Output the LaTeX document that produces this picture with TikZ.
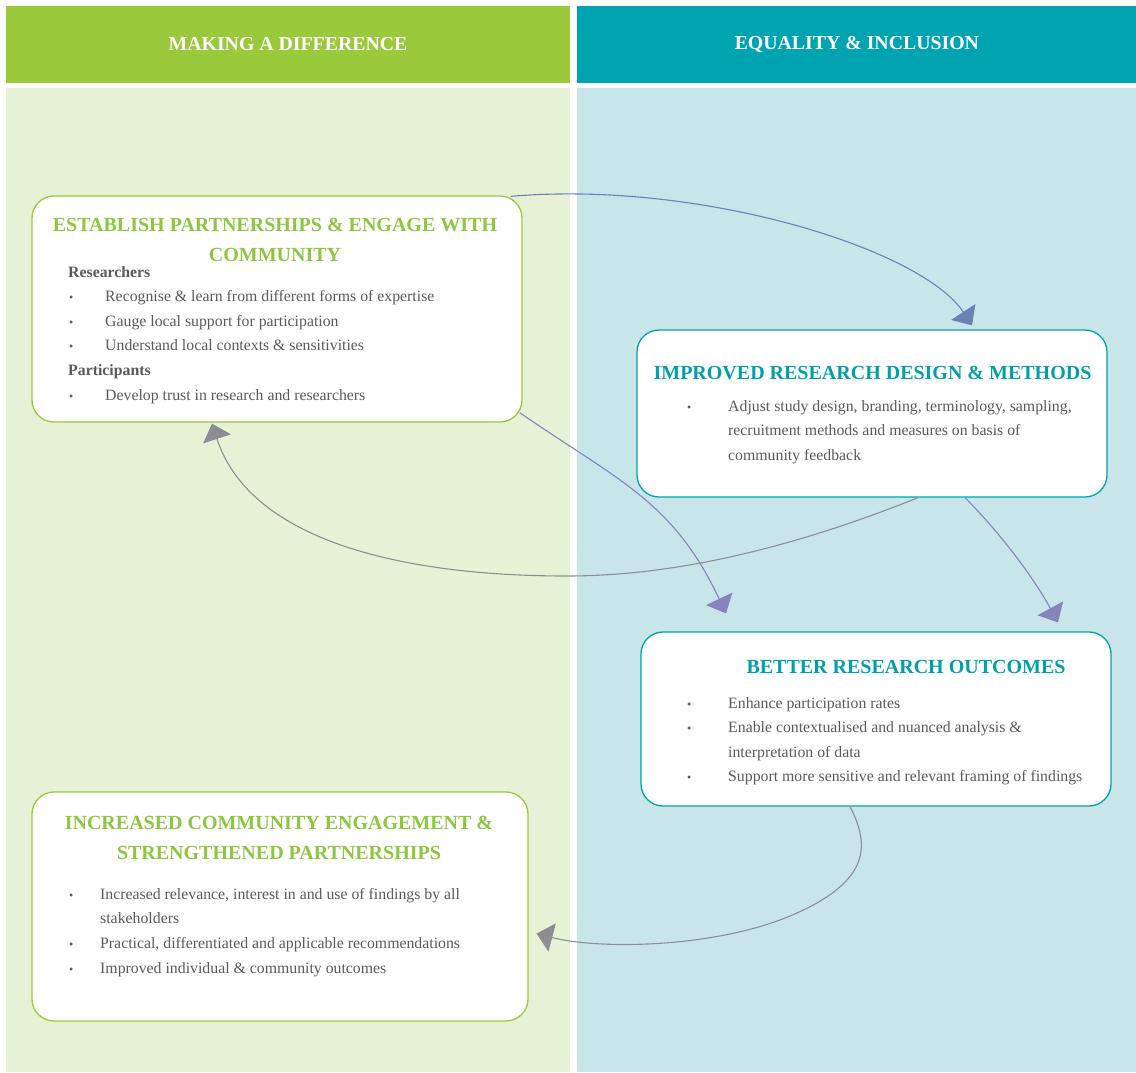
\documentclass[tikz,border=0pt]{standalone}
\usepackage{fontspec}
\setmainfont{Liberation Serif}
\usetikzlibrary{positioning,arrows.meta}

\definecolor{mdgreen}{HTML}{9ACA3C}
\definecolor{eqteal}{HTML}{00A4B0}
\definecolor{palegreen}{HTML}{E6F1D6}
\definecolor{paleblue}{HTML}{C8E5EA}
\definecolor{titlegreen}{HTML}{8DC63F}
\definecolor{titleteal}{HTML}{00A0AB}
\definecolor{bodygray}{HTML}{5A5A5A}
\definecolor{arrblue}{HTML}{6C82B3}
\definecolor{arrpurple}{HTML}{8783BF}
\definecolor{arrgray}{HTML}{8E8E92}

\newcommand{\bul}[1]{\makebox[#1][l]{\hspace{1pt}{\fontsize{12}{12}\selectfont\textbullet}}}

\tikzset{
  header/.style={minimum height=77pt, inner sep=0pt, text=white,
    font=\fontsize{19.8}{22}\selectfont\bfseries},
  panel/.style={minimum height=984pt, inner sep=0pt},
  card/.style={draw, fill=white, rounded corners=22pt, line width=1.3pt, inner sep=0pt},
  cardtitle/.style={align=center, inner sep=0pt, font=\fontsize{20}{30}\selectfont\bfseries},
  cardbody/.style={align=left, inner sep=0pt, anchor=north west, text=bodygray,
    font=\fontsize{15.8}{24.6}\selectfont},
  flow/.style={line width=1.1pt, -{Triangle[length=16pt,width=29pt]}},
}

\begin{document}
\begin{tikzpicture}[x=1pt,y=-1pt]
\useasboundingbox (0,0) rectangle (1136,1072);

%% the two columns
\node[header, fill=mdgreen, minimum width=564pt] (mad) at (288,44.5) {MAKING A DIFFERENCE};
\node[header, fill=eqteal, minimum width=559pt, right=7pt of mad] (eqi) {EQUALITY \& INCLUSION};
\node[panel, fill=palegreen, minimum width=564pt, below=5pt of mad] (madP) {};
\node[panel, fill=paleblue, minimum width=559pt, below=5pt of eqi] (eqiP) {};

%% establish partnerships
\node[card, draw=mdgreen, minimum width=490pt, minimum height=226pt] (est) at (277,309) {};
\node[cardtitle, text=titlegreen] (estT) at (275,240) {ESTABLISH PARTNERSHIPS \& ENGAGE WITH\\COMMUNITY};
\node[cardbody] (estB) at (68,266) {\textbf{Researchers}\\
  \bul{37pt}Recognise \& learn from different forms of expertise\\
  \bul{37pt}Gauge local support for participation\\
  \bul{37pt}Understand local contexts \& sensitivities\\
  \textbf{Participants}\\
  \bul{37pt}Develop trust in research and researchers};

%% improved design
\node[card, draw=eqteal, minimum width=470pt, minimum height=167pt] (imp) at (872,413.5) {};
\node[cardtitle, text=titleteal] (impT) at (872.5,373) {IMPROVED RESEARCH DESIGN \& METHODS};
\node[cardbody] (impB) at (686,400) {\bul{42pt}Adjust study design, branding, terminology, sampling,\\
  \hspace*{42pt}recruitment methods and measures on basis of\\
  \hspace*{42pt}community feedback};

%% better outcomes
\node[card, draw=eqteal, minimum width=470pt, minimum height=174pt] (bro) at (876,719) {};
\node[cardtitle, text=titleteal] (broT) at (906,667) {BETTER RESEARCH OUTCOMES};
\node[cardbody] (broB) at (686,697) {\bul{42pt}Enhance participation rates\\
  \bul{42pt}Enable contextualised and nuanced analysis \&\\
  \hspace*{42pt}interpretation of data\\
  \bul{42pt}Support more sensitive and relevant framing of findings};

%% increased engagement
\node[card, draw=mdgreen, minimum width=496pt, minimum height=229pt] (inc) at (280,906.5) {};
\node[cardtitle, text=titlegreen] (incT) at (279,838) {INCREASED COMMUNITY ENGAGEMENT \&\\STRENGTHENED PARTNERSHIPS};
\node[cardbody] (incB) at (68,888) {\bul{32pt}Increased relevance, interest in and use of findings by all\\
  \hspace*{32pt}stakeholders\\
  \bul{32pt}Practical, differentiated and applicable recommendations\\
  \bul{32pt}Improved individual \& community outcomes};

%% arrows
\draw[flow, arrblue] ([xshift=-12pt,yshift=-1pt]est.north east)
  .. controls (700,180) and (922,249) .. ([xshift=100pt,yshift=4pt]imp.north);
\draw[flow, arrpurple] ([xshift=-3pt,yshift=10pt]est.south east)
  .. controls (619,481) and (673,501) .. ([xshift=-150pt,yshift=18pt]bro.north);
\draw[flow, arrpurple] ([xshift=93pt]imp.south)
  .. controls (1005,538) and (1036,582) .. ([xshift=182pt,yshift=9pt]bro.north);
\draw[flow, arrgray] ([xshift=46pt]imp.south)
  .. controls (800,545) and (680,576) .. (567,576)
  .. controls (400,576) and (250,540) .. ([xshift=-65pt,yshift=-1pt]est.south);
\draw[flow, arrgray] ([xshift=-26pt]bro.south)
  .. controls (870,845) and (870,880) .. (797,913)
  .. controls (720,948) and (600,950) .. ([xshift=8pt,yshift=-27pt]inc.east);
\end{tikzpicture}
\end{document}
